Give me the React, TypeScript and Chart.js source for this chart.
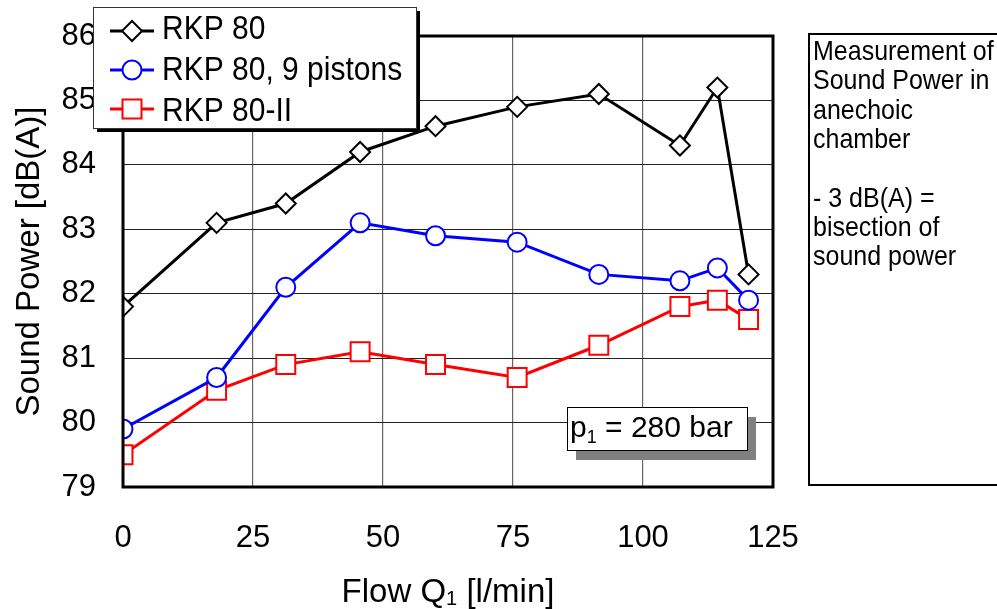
import React, { useEffect, useRef } from "react";
import { Chart, registerables } from "chart.js";

Chart.register(...registerables);

// ---- data ----
const flowValues = [0, 18, 31.3, 45.6, 60.1, 75.8, 91.5, 107.1, 114.3, 120.3];
const powerRKP80 = [81.8, 83.1, 83.4, 84.2, 84.6, 84.9, 85.1, 84.3, 85.2, 82.3];
const power9Pistons = [79.9, 80.7, 82.1, 83.1, 82.9, 82.8, 82.3, 82.2, 82.4, 81.9];
const powerRKP80II = [79.5, 80.5, 80.9, 81.1, 80.9, 80.7, 81.2, 81.8, 81.9, 81.6];
const xTickValues = [0, 25, 50, 75, 100, 125];
const yMin = 79;
const yMax = 86;
const seriesNames = ["RKP 80", "RKP 80, 9 pistons", "RKP 80-II"];
const seriesColors = ["#000000", "#0000ff", "#ff0000"];
const seriesMarkers = ["rectRot", "circle", "rect"];
const noteLines = [
  "Measurement of",
  "Sound Power in",
  "anechoic",
  "chamber",
  "",
  "- 3 dB(A) =",
  "bisection of",
  "sound power",
];
const pressureLabel = { main: "p", sub: "1", rest: " = 280 bar" };
const xTitle = { main: "Flow Q", sub: "1", rest: " [l/min]" };
const yTitle = "Sound Power [dB(A)]";

const FONT = "'Liberation Sans', Arial, sans-serif";

function toPoints(xs: number[], ys: number[]) {
  return xs.map((x, i) => ({ x, y: ys[i] }));
}

function drawMarker(ctx: CanvasRenderingContext2D, style: string, x: number, y: number, color: string) {
  ctx.save();
  ctx.beginPath();
  if (style === "rectRot") {
    const r = 10;
    ctx.moveTo(x - r, y);
    ctx.lineTo(x, y - r);
    ctx.lineTo(x + r, y);
    ctx.lineTo(x, y + r);
    ctx.closePath();
  } else if (style === "circle") {
    ctx.arc(x, y, 9.5, 0, Math.PI * 2);
  } else {
    const s = 9.5;
    ctx.rect(x - s, y - s, 2 * s, 2 * s);
  }
  ctx.fillStyle = "#ffffff";
  ctx.fill();
  ctx.lineWidth = 2;
  ctx.strokeStyle = color;
  ctx.stroke();
  ctx.restore();
}

function drawStretched(
  ctx: CanvasRenderingContext2D,
  text: string,
  x: number,
  y: number,
  size: number,
  sy: number,
  align: CanvasTextAlign
) {
  ctx.save();
  ctx.font = `${size}px ${FONT}`;
  ctx.textAlign = align;
  ctx.textBaseline = "alphabetic";
  ctx.fillStyle = "#000";
  ctx.translate(x, y);
  ctx.scale(1, sy);
  ctx.fillText(text, 0, 0);
  ctx.restore();
}

function subTextWidth(ctx: CanvasRenderingContext2D, t: { main: string; sub: string; rest: string }, size: number, subSize: number) {
  ctx.save();
  ctx.font = `${size}px ${FONT}`;
  const a = ctx.measureText(t.main).width;
  const c = ctx.measureText(t.rest).width;
  ctx.font = `${subSize}px ${FONT}`;
  const b = ctx.measureText(t.sub).width;
  ctx.restore();
  return { a, b, c, total: a + b + c };
}

function drawSubText(
  ctx: CanvasRenderingContext2D,
  t: { main: string; sub: string; rest: string },
  x: number,
  y: number,
  size: number,
  subSize: number,
  subDrop: number,
  sy: number
) {
  const w = subTextWidth(ctx, t, size, subSize);
  drawStretched(ctx, t.main, x, y, size, sy, "left");
  drawStretched(ctx, t.sub, x + w.a, y + subDrop, subSize, sy, "left");
  drawStretched(ctx, t.rest, x + w.a + w.b, y, size, sy, "left");
  return w.total;
}

const decorPlugin = {
  id: "decor",
  afterDraw(chart: any) {
    const ctx: CanvasRenderingContext2D = chart.ctx;
    const area = chart.chartArea;
    const xScale = chart.scales.x;

    // plot frame
    ctx.save();
    ctx.lineWidth = 3;
    ctx.strokeStyle = "#000";
    ctx.strokeRect(area.left, area.top, area.right - area.left, area.bottom - area.top);
    ctx.restore();

    // x tick labels (positions from the library's x scale)
    for (const v of xTickValues) {
      const px = xScale.getPixelForValue(v);
      drawStretched(ctx, String(v), px, 547, 31, 1, "center");
    }

    // x title
    {
      const w = subTextWidth(ctx, xTitle, 33, 20);
      const cx = (area.left + area.right) / 2;
      drawSubText(ctx, xTitle, cx - w.total / 2, 602, 33, 20, 3, 1);
    }

    // y title
    ctx.save();
    ctx.translate(39, (area.top + area.bottom) / 2);
    ctx.rotate(-Math.PI / 2);
    ctx.font = `33px ${FONT}`;
    ctx.textAlign = "center";
    ctx.textBaseline = "alphabetic";
    ctx.fillStyle = "#000";
    ctx.fillText(yTitle, 0, 0);
    ctx.restore();

    // legend
    {
      const lx = 93, ly = 7, lw = 323, lh = 121;
      ctx.save();
      ctx.fillStyle = "#000";
      ctx.fillRect(lx + 4, ly + 4, lw, lh);
      ctx.fillStyle = "#fff";
      ctx.fillRect(lx, ly, lw, lh);
      ctx.lineWidth = 1;
      ctx.strokeStyle = "#333";
      ctx.strokeRect(lx + 0.5, ly + 0.5, lw, lh);
      ctx.restore();
      const lineYs = [31, 70, 109];
      const baseYs = [39, 80, 121];
      for (let i = 0; i < seriesNames.length; i++) {
        ctx.save();
        ctx.strokeStyle = seriesColors[i];
        ctx.lineWidth = 3;
        ctx.beginPath();
        ctx.moveTo(110, lineYs[i]);
        ctx.lineTo(154, lineYs[i]);
        ctx.stroke();
        ctx.restore();
        drawMarker(ctx, seriesMarkers[i], 132, lineYs[i], seriesColors[i]);
        drawStretched(ctx, seriesNames[i], 162, baseYs[i], 30, 1.08, "left");
      }
    }

    // pressure annotation box
    {
      const bx = 567, by = 407, bw = 180, bh = 43;
      ctx.save();
      ctx.fillStyle = "#808080";
      ctx.fillRect(bx + 9, by + 10, bw, bh);
      ctx.fillStyle = "#fff";
      ctx.fillRect(bx, by, bw, bh);
      ctx.lineWidth = 1;
      ctx.strokeStyle = "#000";
      ctx.strokeRect(bx + 0.5, by + 0.5, bw, bh);
      ctx.restore();
      drawSubText(ctx, pressureLabel, 570, 437, 30, 18, 6, 1);
    }

    // note box on the right
    {
      ctx.save();
      ctx.lineWidth = 2;
      ctx.strokeStyle = "#000";
      ctx.strokeRect(809, 34, 200, 451);
      ctx.restore();
      noteLines.forEach((line, i) => {
        if (line) drawStretched(ctx, line, 813, 60 + i * 29.3, 25, 1.12, "left");
      });
    }
  },
};

export default function App() {
  const canvasRef = useRef<HTMLCanvasElement | null>(null);

  useEffect(() => {
    const canvas = canvasRef.current;
    if (!canvas) return;
    const datasets = [powerRKP80, power9Pistons, powerRKP80II].map((ys, i) => ({
      label: seriesNames[i],
      data: toPoints(flowValues, ys),
      borderColor: seriesColors[i],
      backgroundColor: "#ffffff",
      borderWidth: 3,
      pointStyle: seriesMarkers[i] as any,
      pointRadius: seriesMarkers[i] === "rectRot" ? 10 : seriesMarkers[i] === "circle" ? 9.5 : 13.4,
      pointBorderWidth: 2,
      pointBackgroundColor: "#ffffff",
      pointBorderColor: seriesColors[i],
      tension: 0,
    }));

    const chart = new Chart(canvas, {
      type: "line",
      data: { datasets },
      options: {
        responsive: false,
        animation: false,
        events: [],
        layout: { padding: { top: 36, right: 224, left: 0, bottom: 0 } },
        plugins: {
          legend: { display: false },
          tooltip: { enabled: false },
          title: { display: false },
        },
        scales: {
          x: {
            type: "linear",
            min: 0,
            max: 125,
            ticks: { display: false, stepSize: 25 },
            grid: { color: "#666666", lineWidth: 1.2, drawTicks: false },
            border: { display: false },
            afterFit: (scale: any) => {
              scale.height = 122;
              scale.paddingLeft = 0;
              scale.paddingRight = 0;
            },
          },
          y: {
            type: "linear",
            min: yMin,
            max: yMax,
            ticks: {
              stepSize: 1,
              color: "#000",
              padding: 27,
              font: { family: FONT, size: 31 },
            },
            grid: { color: "#222222", lineWidth: 1, drawTicks: false },
            border: { display: false },
            afterFit: (scale: any) => {
              scale.width = 123;
              scale.paddingTop = 0;
              scale.paddingBottom = 0;
            },
          },
        },
      },
      plugins: [decorPlugin],
    });
    return () => chart.destroy();
  }, []);

  return (
    <div style={{ position: "absolute", left: 0, top: 0, width: 997, height: 609, background: "#fff" }}>
      <canvas ref={canvasRef} width={997} height={609} />
    </div>
  );
}
